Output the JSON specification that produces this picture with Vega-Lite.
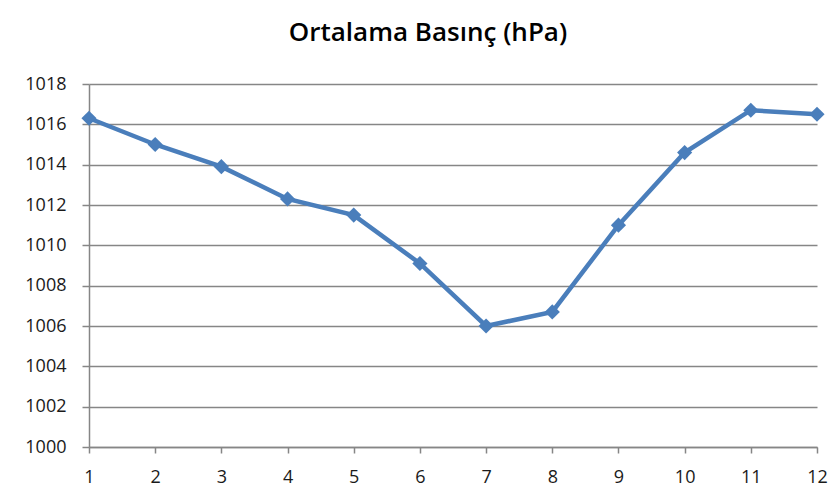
{
  "$schema": "https://vega.github.io/schema/vega-lite/v6.json",
  "width": 728,
  "height": 363,
  "autosize": "none",
  "padding": {"left": 89, "top": 84, "right": 17, "bottom": 57},
  "background": "white",
  "title": {
    "text": "Ortalama Basınç (hPa)",
    "font": "Open Sans",
    "fontSize": 26,
    "fontWeight": 600,
    "color": "#000000",
    "anchor": "middle",
    "dx": -25,
    "offset": 29
  },
  "data": {
    "values": [
      {"ay": 1, "basinc": 1016.3},
      {"ay": 2, "basinc": 1015.0},
      {"ay": 3, "basinc": 1013.9},
      {"ay": 4, "basinc": 1012.3},
      {"ay": 5, "basinc": 1011.5},
      {"ay": 6, "basinc": 1009.1},
      {"ay": 7, "basinc": 1006.0},
      {"ay": 8, "basinc": 1006.7},
      {"ay": 9, "basinc": 1011.0},
      {"ay": 10, "basinc": 1014.6},
      {"ay": 11, "basinc": 1016.7},
      {"ay": 12, "basinc": 1016.5}
    ]
  },
  "encoding": {
    "x": {
      "field": "ay",
      "type": "ordinal",
      "scale": {"type": "point", "padding": 0},
      "axis": {
        "title": null,
        "labelAngle": 0,
        "labelFont": "Open Sans",
        "labelFontSize": 18,
        "labelColor": "#1a1a1a",
        "labelPadding": 15,
        "tickSize": 6,
        "tickColor": "#868686",
        "domainColor": "#868686",
        "domainWidth": 1.5,
        "tickWidth": 1.5,
        "grid": false
      }
    },
    "y": {
      "field": "basinc",
      "type": "quantitative",
      "scale": {"domain": [1000, 1018], "zero": false, "nice": false},
      "axis": {
        "title": null,
        "format": "d",
        "values": [1000, 1002, 1004, 1006, 1008, 1010, 1012, 1014, 1016, 1018],
        "labelFont": "Open Sans",
        "labelFontSize": 18,
        "labelColor": "#1a1a1a",
        "labelPadding": 16,
        "tickSize": 7,
        "tickColor": "#868686",
        "tickWidth": 1.5,
        "domainColor": "#868686",
        "domainWidth": 1.5,
        "grid": true,
        "gridColor": "#868686",
        "gridWidth": 1.5
      }
    }
  },
  "layer": [
    {"mark": {"type": "line", "color": "#4A7EBB", "strokeWidth": 4.5}},
    {"mark": {"type": "point", "shape": "diamond", "filled": true, "color": "#4A7EBB", "size": 230, "opacity": 1}}
  ],
  "config": {"view": {"stroke": null}}
}
